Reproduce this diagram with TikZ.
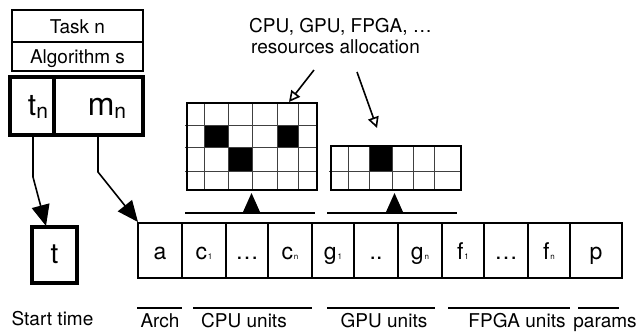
\documentclass[tikz,border=0pt]{standalone}
\usepackage{fontspec}
\setmainfont{TeX Gyre Heros}
\usetikzlibrary{arrows.meta}
\newcommand\fsz[1]{\fontsize{#1}{#1}\selectfont}
\newcommand\subl[1]{\kern0.8pt{\fsz{8}#1}}
\begin{document}
\begin{tikzpicture}[x=1pt,y=-1pt,
  thinbox/.style={draw, line width=1.6pt, inner sep=0pt, outer sep=0pt},
  thickbox/.style={draw, line width=3.2pt, inner sep=0pt, outer sep=0pt},
  cellbox/.style={draw, line width=1.8pt, inner sep=0pt, outer sep=0pt, minimum height=55pt, minimum width=#1},
  lbl/.style={font=\fsz{19}, inner sep=0pt, anchor=base},
  ctext/.style={font=\fsz{23}, inner sep=0pt, anchor=base},
  gridline/.style={draw=black!75, line width=1pt},
  gridouter/.style={draw, line width=2pt},
  bigarrow/.style={line width=1.6pt, -{Triangle[length=21pt,width=18pt]}},
  openarrow/.style={line width=1.6pt, -{Triangle[open,fill=white,length=11pt,width=11pt]}},
  rule/.style={line width=1.6pt}
]
\useasboundingbox (0,0) rectangle (642,333);

% Task / algorithm header
\node[thinbox, minimum width=131pt, minimum height=32pt] (task) at (77.5,26) {};
\node[lbl] at (77.5,33) {Task n};
\node[thinbox, minimum width=131pt, minimum height=29pt] (algo) at (77.5,56.5) {};
\node[lbl] at (77.5,63) {Algorithm s};

% t_n / m_n box
\node[thickbox, minimum width=44pt, minimum height=58pt] (tn) at (32,106) {};
\node[thickbox, minimum width=89pt, minimum height=58pt] (mn) at (98.5,106) {};
\node[font=\fsz{30}, inner sep=0pt, anchor=base] at (38,115) {t\raisebox{-3pt}{\fsz{21}n}};
\node[font=\fsz{32}, inner sep=0pt, anchor=base] at (107,115) {m\raisebox{-3pt}{\fsz{21}n}};

% start time box
\node[thickbox, minimum width=45pt, minimum height=56pt] (tbox) at (54.5,255) {};
\node[font=\fsz{28}, inner sep=0pt, anchor=base] at (54.5,263) {t};

% cells
\node[cellbox=44pt] (ca) at (160,250.5) {};
\node[cellbox=44pt] (cc1) at (204,250.5) {};
\node[cellbox=42pt] (cdots) at (247,250.5) {};
\node[cellbox=44pt] (ccn) at (290,250.5) {};
\node[cellbox=42pt] (cg1) at (333,250.5) {};
\node[cellbox=44pt] (cgd) at (376,250.5) {};
\node[cellbox=44pt] (cgn) at (420,250.5) {};
\node[cellbox=42pt] (cf1) at (463,250.5) {};
\node[cellbox=44pt] (cfd) at (506,250.5) {};
\node[cellbox=42pt] (cfn) at (549,250.5) {};
\node[cellbox=52pt] (cp) at (596,250.5) {};

\node[ctext] at (160,259) {a};
\node[ctext] at (204,259) {c\subl{1}};
\node[ctext] at (247,259) {\ldots};
\node[ctext] at (290,259) {c\subl{n}};
\node[ctext] at (333,259) {g\subl{1}};
\node[ctext] at (376,259) {..};
\node[ctext] at (420,259) {g\subl{n}};
\node[ctext] at (463,259) {f\subl{1}};
\node[ctext] at (506,259) {\ldots};
\node[ctext] at (549,259) {f\subl{n}};
\node[ctext] at (596,259) {p};

% grid 1
\fill (204,125) rectangle (228,147);
\fill (228,147) rectangle (252,171);
\fill (277,125) rectangle (298,147);
\foreach \x in {204,228,252,277,298} \draw[gridline] (\x,103) -- (\x,190);
\foreach \y in {125,147,171} \draw[gridline] (185,\y) -- (317,\y);
\node[gridouter, inner sep=0pt, outer sep=0pt, minimum width=130pt, minimum height=87pt] (gridA) at (252,146.5) {};

% grid 2
\fill (369,146) rectangle (392,171);
\foreach \x in {348,369,392,413,434} \draw[gridline] (\x,146) -- (\x,190);
\draw[gridline] (329,171) -- (461,171);
\node[gridouter, inner sep=0pt, outer sep=0pt, minimum width=130pt, minimum height=44pt] (gridB) at (396,168) {};

% supports under grids
\fill (243,212) -- (251.5,193) -- (260,212) -- cycle;
\draw[rule] (185,213) -- (315,213);
\fill (386,212) -- (394.5,193) -- (403,212) -- cycle;
\draw[rule] (327,213) -- (457,213);

% allocation label and arrows
\node[lbl, anchor=base west] (alloc1) at (249,32) {CPU, GPU, FPGA, \ldots};
\node[lbl, anchor=base west] (alloc2) at (251,53) {resources allocation};
\coordinate (aAs) at (314,70);
\coordinate (aAe) at (289,102);
\coordinate (aBs) at (357,72);
\coordinate (aBe) at (377,128);
\draw[openarrow] (aAs) -- (aAe);
\draw[openarrow] (aBs) -- (aBe);

% connectors
\coordinate (tnb) at (33,135);
\coordinate (tnk) at (33,177);
\coordinate (tbt) at (46,226);
\coordinate (mnb) at (98,135);
\coordinate (mnk) at (98,172);
\coordinate (cat) at (138,222);
\draw[bigarrow] (tnb) -- (tnk) -- (tbt);
\draw[bigarrow] (mnb) -- (mnk) -- (cat);

% bottom labels
\node[lbl] at (52.5,325) {Start time};
\draw[rule] (137,308) -- (182,308);
\node[lbl] at (160,327) {Arch};
\draw[rule] (193,308) -- (312,308);
\node[lbl] at (244,327) {CPU units};
\draw[rule] (327,308) -- (435,308);
\node[lbl] at (384,327) {GPU units};
\draw[rule] (448,308) -- (570,308);
\node[lbl] at (517,327) {FPGA units};
\draw[rule] (578,308) -- (619,308);
\node[lbl] at (605,327) {params};
\end{tikzpicture}
\end{document}
